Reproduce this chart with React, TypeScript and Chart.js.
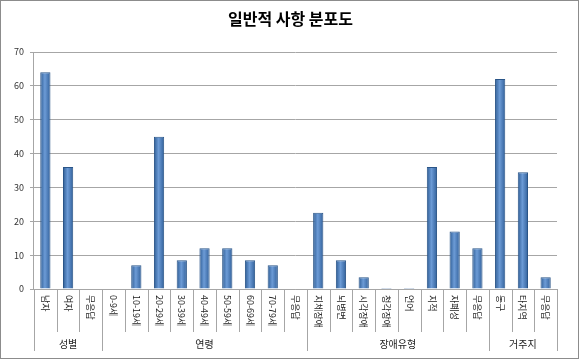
import React, { useEffect, useRef } from "react";
import { Chart, registerables } from "chart.js";

Chart.register(...registerables);

const categories = [
  "남자", "여자", "무응답",
  "0-9세", "10-19세", "20-29세", "30-39세", "40-49세", "50-59세", "60-69세", "70-79세", "무응답",
  "지체장애", "뇌병변", "시각장애", "청각장애", "언어", "지적", "자폐성", "무응답",
  "동구", "타지역", "무응답",
];
const values = [
  64, 36, 0,
  0, 7, 45, 8.5, 12, 12, 8.5, 7, 0,
  22.5, 8.5, 3.5, 0.3, 0.3, 36, 17, 12,
  62, 34.5, 3.5,
];
const groupNames = ["성별", "연령", "장애유형", "거주지"];
const groupSizes = [3, 9, 8, 3];
const yTicks = [0, 10, 20, 30, 40, 50, 60, 70];
const title = "일반적 사항 분포도";

const FONT = "'Noto Sans CJK KR', 'Noto Sans', sans-serif";

const gradientPlugin = {
  id: "barGradient",
  beforeDatasetsDraw(chart: any) {
    const meta = chart.getDatasetMeta(0);
    meta.data.forEach((el: any) => {
      const half = (el.width || 10) / 2;
      if (!isFinite(el.x)) return;
      const g = chart.ctx.createLinearGradient(el.x - half, 0, el.x + half, 0);
      g.addColorStop(0, "#2d5c94");
      g.addColorStop(0.45, "#6c9bd6");
      g.addColorStop(1, "#31609a");
      el.options = Object.assign({}, el.options, { backgroundColor: g });
    });
  },
};

const labelPlugin = {
  id: "customLabels",
  afterDraw(chart: any) {
    const { ctx, chartArea, scales } = chart;
    const x = scales.x;
    const n = categories.length;
    const cellW = (chartArea.right - chartArea.left) / n;
    const base = chartArea.bottom;
    ctx.save();
    ctx.fillStyle = "#000";
    ctx.font = `bold 16px ${FONT}`;
    ctx.textAlign = "center";
    ctx.textBaseline = "middle";
    ctx.fillText(title, chart.width / 2, 19);

    ctx.strokeStyle = "#a6a6a6";
    ctx.lineWidth = 1;
    const groupStarts = new Set<number>();
    let acc = 0;
    groupSizes.forEach((s) => { groupStarts.add(acc); acc += s; });
    groupStarts.add(n);
    for (let i = 0; i <= n; i++) {
      const px = Math.round(chartArea.left + i * cellW) + 0.5;
      const yEnd = groupStarts.has(i) ? base + 62 : base + 43;
      ctx.beginPath();
      ctx.moveTo(px, base);
      ctx.lineTo(px, yEnd);
      ctx.stroke();
    }
    ctx.fillStyle = "#222";
    ctx.font = `9px ${FONT}`;
    ctx.textAlign = "left";
    ctx.textBaseline = "middle";
    categories.forEach((c, i) => {
      const cx = x.getPixelForValue(i);
      ctx.save();
      ctx.translate(cx, base + 6);
      ctx.rotate(Math.PI / 2);
      ctx.fillText(c, 0, 0);
      ctx.restore();
    });
    ctx.font = `10px ${FONT}`;
    ctx.textAlign = "center";
    let start = 0;
    groupNames.forEach((g, gi) => {
      const end = start + groupSizes[gi];
      const cx = chartArea.left + ((start + end) / 2) * cellW;
      ctx.fillText(g, cx, base + 55);
      start = end;
    });
    ctx.strokeStyle = "#8c8c8c";
    ctx.strokeRect(0.5, 0.5, chart.width - 3, chart.height - 3);
    ctx.restore();
  },
};

export default function App() {
  const ref = useRef<HTMLCanvasElement>(null);
  useEffect(() => {
    document.body.style.margin = "0";
    const chart = new Chart(ref.current!, {
      type: "bar",
      data: {
        labels: categories,
        datasets: [
          {
            data: values,
            backgroundColor: "#4a7ebb",
            borderColor: "#2a5588",
            borderWidth: 1,
            categoryPercentage: 1,
            barPercentage: 0.45,
          },
        ],
      },
      options: {
        responsive: false,
        animation: false,
        layout: { padding: { top: 52, bottom: 64, left: 8, right: 24 } },
        plugins: { legend: { display: false }, title: { display: false }, tooltip: { enabled: false } },
        scales: {
          x: {
            ticks: { display: false },
            grid: { display: false },
            border: { color: "#a6a6a6" },
          },
          y: {
            min: 0,
            max: 70,
            afterBuildTicks: (axis: any) => { axis.ticks = yTicks.map((v) => ({ value: v })); },
            ticks: { font: { size: 9, family: FONT }, color: "#333", padding: 6 },
            grid: { color: "#a6a6a6", tickLength: 4 },
            border: { color: "#a6a6a6" },
          },
        },
      },
      plugins: [gradientPlugin, labelPlugin],
    });
    return () => chart.destroy();
  }, []);
  return (
    <div style={{ position: "fixed", left: 0, top: 0 }}>
      <canvas ref={ref} width={581} height={361} />
    </div>
  );
}
